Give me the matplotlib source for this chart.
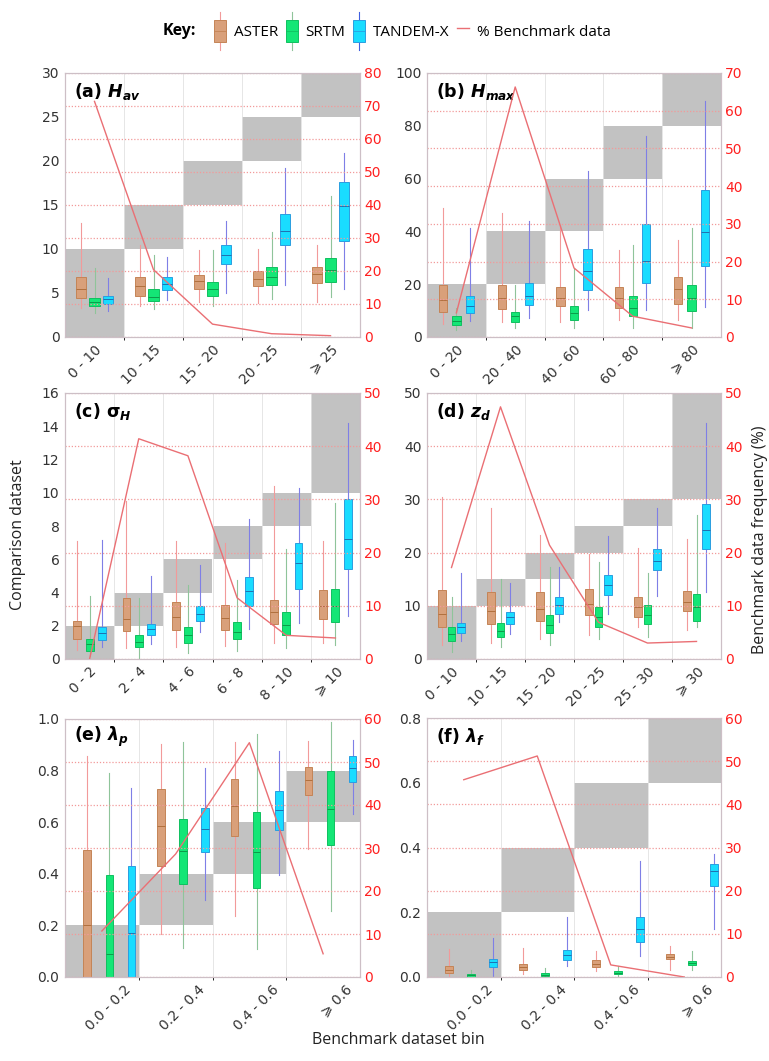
import numpy as np
import matplotlib
matplotlib.use('Agg')
import matplotlib.pyplot as plt
from matplotlib.patches import Patch, Rectangle
from matplotlib.lines import Line2D
from matplotlib.legend_handler import HandlerBase

# box stats per bin: (whisker low, q1, median, q3, whisker high)
# (a) H_av
a_labels = ['0 - 10', '10 - 15', '15 - 20', '20 - 25', '⩾ 25']
a_edges = [0, 10, 15, 20, 25, 30]
a_aster = [(3.3, 4.4, 5.45, 6.8, 12.9), (3.5, 4.7, 5.75, 6.8, 10.5), (3.95, 5.5, 6.4, 7.1, 9.9),
           (3.85, 5.75, 6.6, 7.45, 10.0), (4.0, 6.15, 7.2, 8.0, 10.5)]
a_srtm = [(2.7, 3.5, 4.0, 4.45, 7.8), (3.2, 4.05, 4.6, 5.4, 9.35), (3.55, 4.7, 5.45, 6.25, 9.9),
          (4.3, 5.95, 6.8, 8.0, 11.9), (4.6, 6.3, 7.65, 9.0, 16.0)]
a_tdx = [(2.9, 3.7, 4.3, 4.7, 6.7), (4.25, 5.3, 6.0, 6.8, 9.05), (5.0, 8.3, 9.35, 10.4, 13.15),
         (5.95, 10.4, 12.1, 14.0, 19.2), (5.45, 10.95, 14.9, 17.6, 20.9)]
a_freq = [71.4, 20.4, 3.9, 1.0, 0.4]

# (b) H_max
b_labels = ['0 - 20', '20 - 40', '40 - 60', '60 - 80', '⩾ 80']
b_edges = [0, 20, 40, 60, 80, 100]
b_aster = [(5.0, 9.5, 13.9, 19.6, 48.9), (5.6, 10.6, 14.8, 19.8, 47.0), (5.6, 11.6, 14.8, 18.8, 42.5),
           (6.3, 11.0, 14.8, 18.8, 33.1), (6.6, 12.6, 18.2, 22.6, 36.9)]
b_srtm = [(2.5, 4.4, 5.9, 7.8, 11.0), (3.4, 5.7, 7.8, 9.3, 19.8), (3.4, 6.6, 9.1, 11.6, 26.1),
          (3.4, 7.8, 11.0, 15.7, 35.0), (3.4, 9.7, 14.8, 19.6, 41.3)]
b_tdx = [(5.9, 9.1, 11.9, 15.4, 41.3), (7.2, 12.2, 15.7, 20.5, 43.8), (10.1, 17.9, 24.9, 33.5, 62.8),
         (10.4, 20.5, 28.7, 42.9, 76.0), (11.4, 26.8, 39.6, 55.8, 89.3)]
b_freq = [6.4, 66.3, 18.3, 5.5, 2.4]

# (c) sigma_H
c_labels = ['0 - 2', '2 - 4', '4 - 6', '6 - 8', '8 - 10', '⩾ 10']
c_edges = [0, 2, 4, 6, 8, 10, 16]
c_aster = [(0.56, 1.2, 1.96, 2.26, 7.07), (0.66, 1.66, 2.4, 3.67, 9.5), (0.7, 1.76, 2.5, 3.4, 7.07),
           (0.8, 1.72, 2.44, 3.23, 6.97), (0.96, 2.12, 2.85, 3.53, 10.4), (0.96, 2.4, 3.17, 4.13, 7.07)]
c_srtm = [(0.16, 0.5, 0.9, 1.2, 3.77), (0.06, 0.72, 1.0, 1.42, 3.67), (0.36, 0.96, 1.42, 1.92, 4.47),
          (0.5, 1.2, 1.6, 2.24, 4.77), (0.66, 1.46, 2.06, 2.8, 6.6), (0.86, 2.2, 3.17, 4.2, 9.4)]
c_tdx = [(0.7, 1.16, 1.56, 1.92, 7.17), (0.9, 1.46, 1.8, 2.12, 5.0), (1.6, 2.3, 2.7, 3.2, 5.67),
         (1.8, 3.2, 4.1, 4.93, 8.4), (2.16, 4.2, 5.77, 7.0, 10.3), (2.6, 5.43, 7.2, 9.64, 14.2)]
c_freq = [0.0, 41.4, 38.2, 11.5, 4.45, 3.95]

# (d) z_d
d_labels = ['0 - 10', '10 - 15', '15 - 20', '20 - 25', '25 - 30', '⩾ 30']
d_edges = [0, 10, 15, 20, 25, 30, 50]
d_aster = [(2.7, 6.1, 8.5, 13.0, 30.5), (3.1, 6.6, 9.1, 12.6, 28.3), (3.8, 7.2, 9.4, 12.6, 23.3),
           (4.6, 8.2, 10.4, 13.1, 19.8), (6.0, 7.9, 9.75, 11.6, 20.9), (5.5, 9.0, 10.7, 12.8, 22.6)]
d_srtm = [(1.26, 3.46, 4.7, 6.1, 11.6), (2.2, 4.2, 5.35, 6.7, 15.1), (2.7, 4.84, 6.3, 8.2, 17.3),
          (3.8, 6.0, 7.86, 9.75, 18.2), (4.1, 6.6, 8.2, 10.1, 16.2), (6.0, 7.2, 9.75, 12.3, 27.0)]
d_tdx = [(3.46, 4.84, 6.0, 6.7, 16.2), (4.7, 6.6, 7.86, 8.8, 14.3), (6.9, 8.5, 10.1, 11.6, 17.3),
         (8.5, 12.1, 14.0, 15.7, 23.1), (11.8, 16.7, 18.4, 20.6, 28.3), (12.6, 20.6, 24.3, 29.2, 44.3)]
d_freq = [17.2, 47.4, 21.4, 6.9, 3.0, 3.3]

# (e) lambda_p
e_labels = ['0.0 - 0.2', '0.2 - 0.4', '0.4 - 0.6', '⩾ 0.6']
e_edges = [0, 0.2, 0.4, 0.6, 0.8]
e_aster = [(0.0, 0.0, 0.2, 0.494, 0.856), (0.166, 0.432, 0.585, 0.73, 0.905),
           (0.237, 0.546, 0.664, 0.766, 0.912), (0.497, 0.704, 0.763, 0.815, 0.914)]
e_srtm = [(0.0, 0.0, 0.088, 0.397, 0.79), (0.114, 0.36, 0.49, 0.611, 0.912),
          (0.108, 0.345, 0.484, 0.638, 0.94), (0.257, 0.512, 0.652, 0.8, 0.99)]
e_tdx = [(0.0, 0.0, 0.17, 0.43, 0.734), (0.30, 0.484, 0.575, 0.655, 0.81),
         (0.396, 0.57, 0.646, 0.72, 0.875), (0.633, 0.756, 0.812, 0.856, 0.918)]
e_freq = [10.7, 28.6, 54.5, 5.4]

# (f) lambda_f
f_labels = ['0.0 - 0.2', '0.2 - 0.4', '0.4 - 0.6', '⩾ 0.6']
f_edges = [0, 0.2, 0.4, 0.6, 0.8]
f_aster = [(0.003, 0.011, 0.023, 0.034, 0.086), (0.008, 0.021, 0.031, 0.039, 0.091),
           (0.019, 0.031, 0.041, 0.052, 0.081), (0.023, 0.055, 0.062, 0.07, 0.096)]
f_srtm = [(0.0, 0.0, 0.005, 0.01, 0.023), (0.0, 0.002, 0.006, 0.011, 0.027),
          (0.003, 0.008, 0.012, 0.019, 0.034), (0.023, 0.036, 0.043, 0.05, 0.081)]
f_tdx = [(0.0, 0.032, 0.045, 0.057, 0.12), (0.034, 0.052, 0.067, 0.083, 0.186),
         (0.065, 0.109, 0.148, 0.186, 0.357), (0.148, 0.28, 0.327, 0.35, 0.381)]
f_freq = [45.7, 51.2, 2.8, 0.0]

# styles
face = ['#d9a07a', '#14e676', '#19dcff']
edge = ['#c48456', '#10c060', '#2a9ee0']
whisk = ['#f29a9a', '#8fc49a', '#7f7fe6']
med_c = ['#b0703e', '#0c9a4a', '#2070b0']
shade = '#c2c2c2'
red = '#ff2020'
line_c = '#ea6f74'
spine_c = '#cdbfc6'

W, H = 769, 1061
fig = plt.figure(figsize=(W / 100, H / 100), dpi=100)


def ax_rect(l, t, r, b):
    return [l / W, 1 - b / H, (r - l) / W, (b - t) / H]


def panel(rect, title, labels, edges, ymax, ystep, yfmt, rmax, series, freq,
          offsets, width, tshift):
    ax = fig.add_axes(ax_rect(*rect))
    n = len(labels)
    x = np.arange(n)
    lows = np.array(edges[:-1])
    highs = np.array(edges[1:])
    ax.bar(x, highs - lows, bottom=lows, width=1.0, color=shade, zorder=0)
    ax.set_xticks(x[:-1] + 0.5, minor=True)
    ax.grid(axis='x', which='minor', color='#e2e2e2', lw=0.6)
    ax.set_axisbelow(True)
    for i, data in enumerate(series):
        stats = [dict(whislo=s[0], q1=s[1], med=s[2], q3=s[3], whishi=s[4]) for s in data]
        ax.bxp(stats, positions=x + offsets[i], widths=width, patch_artist=True,
               showfliers=False, showcaps=False, manage_ticks=False,
               boxprops=dict(facecolor=face[i], edgecolor=edge[i], lw=0.7, zorder=3),
               medianprops=dict(color=med_c[i], lw=0.7, zorder=4),
               whiskerprops=dict(color=whisk[i], lw=0.8, zorder=2))
    ax.set_xlim(-0.5, n - 0.5)
    ax.set_ylim(0, ymax)
    ax.set_yticks(np.arange(0, ymax + ystep / 2, ystep))
    ax.yaxis.set_major_formatter(yfmt)
    ax.set_xticks(x + tshift)
    ax.set_xticklabels(labels, rotation=45, ha='right', rotation_mode='anchor')
    ax.tick_params(length=0, labelsize=10, colors='#333333', pad=4)
    for s in ax.spines.values():
        s.set_color(spine_c)
    ax.text(0.03, 0.93, title, transform=ax.transAxes, fontsize=12.5,
            fontweight='bold', va='center', ha='left', zorder=6)

    ax2 = ax.twinx()
    ax2.plot(x, freq, color=line_c, lw=1.0)
    ax2.set_ylim(0, rmax)
    ax2.set_yticks(np.arange(0, rmax + 1, 10))
    ax2.yaxis.grid(True, linestyle=(0, (1, 1.5)), color='#f29a9a', lw=0.9)
    ax2.tick_params(length=0, labelsize=10, colors=red, pad=3)
    for s in ax2.spines.values():
        s.set_color(spine_c)
    return ax


ab = [-0.23, 0.0, 0.23]
ef = [-0.2, 0.1, 0.4]

panel((65, 73, 360, 337), r'(a) $\mathbfit{H}_{\mathbfit{av}}$', a_labels, a_edges, 30, 5, '{x:.0f}', 80,
      [a_aster, a_srtm, a_tdx], a_freq, ab, 0.17, 0.0)
panel((427, 73, 721, 337), r'(b) $\mathbfit{H}_{\mathbfit{max}}$', b_labels, b_edges, 100, 20, '{x:.0f}', 70,
      [b_aster, b_srtm, b_tdx], b_freq, ab, 0.14, 0.0)
panel((65, 393, 360, 659), r'(c) $\mathbf{\sigma}_{\mathbfit{H}}$', c_labels, c_edges, 16, 2, '{x:.0f}', 50,
      [c_aster, c_srtm, c_tdx], c_freq, [-0.25, 0.0, 0.25], 0.16, 0.0)
panel((427, 393, 721, 659), r'(d) $\mathbfit{z}_{\mathbfit{d}}$', d_labels, d_edges, 50, 10, '{x:.0f}', 50,
      [d_aster, d_srtm, d_tdx], d_freq, [-0.2, 0.0, 0.2], 0.16, 0.0)
panel((65, 719, 360, 977), r'(e) $\mathbfit{\lambda}_{\mathbfit{p}}$', e_labels, e_edges, 1.0, 0.2, '{x:.1f}', 60,
      [e_aster, e_srtm, e_tdx], e_freq, ef, 0.1, 0.3)
panel((427, 718, 721, 977), r'(f) $\mathbfit{\lambda}_{\mathbfit{f}}$', f_labels, f_edges, 0.8, 0.2, '{x:.1f}', 60,
      [f_aster, f_srtm, f_tdx], f_freq, ef, 0.11, 0.3)

# axis labels
lab_font = 'Open Sans'
fig.text(18 / W, 1 - 535 / H, 'Comparison dataset', rotation=90, ha='center', va='center',
         fontsize=11.5, family=lab_font, color='#222222')
fig.text(768 / W, 1 - 540 / H, 'Benchmark data frequency (%)', rotation=90, ha='right', va='center',
         fontsize=11.5, family=lab_font, color='#222222')
fig.text(398 / W, 1 - 1040 / H, 'Benchmark dataset bin', ha='center', va='center',
         fontsize=11.5, family=lab_font, color='#222222')


class BoxKey(HandlerBase):
    # small boxplot glyph for the key
    def __init__(self, wcolor):
        super().__init__()
        self.wcolor = wcolor

    def create_artists(self, legend, orig_handle, xdescent, ydescent, width, height,
                       fontsize, trans):
        cx = width / 2 - xdescent
        whis = Line2D([cx, cx], [-ydescent - 0.35 * height, height * 1.35 - ydescent],
                      color=self.wcolor, lw=0.8, transform=trans)
        box = Rectangle((-xdescent, -ydescent), width, height,
                        facecolor=orig_handle.get_facecolor(),
                        edgecolor=orig_handle.get_edgecolor(), lw=0.7, transform=trans)
        med = Line2D([-xdescent, width - xdescent], [height / 2 - ydescent] * 2,
                     color=orig_handle.get_edgecolor(), lw=0.6, transform=trans)
        return [whis, box, med]


# key
fig.text(163 / W, 1 - 31 / H, 'Key:', fontweight='bold', fontsize=11.5, family=lab_font,
         va='center', ha='left')
handles = [Patch(facecolor=face[i], edgecolor=edge[i], lw=0.7) for i in range(3)]
handles.append(Line2D([], [], color=line_c, lw=1.0))
hmap = {handles[i]: BoxKey(whisk[i] if i != 2 else '#4060e0') for i in range(3)}
fig.legend(handles, ['ASTER', 'SRTM', 'TANDEM-X', '% Benchmark data'], loc='center left',
           bbox_to_anchor=(208 / W, 1 - 31 / H), ncol=4, frameon=False, handler_map=hmap,
           prop=dict(family=lab_font, size=11), handlelength=0.8, handleheight=1.9,
           handletextpad=0.5, columnspacing=0.5, borderaxespad=0)
fig.savefig('out.png', dpi=100)
